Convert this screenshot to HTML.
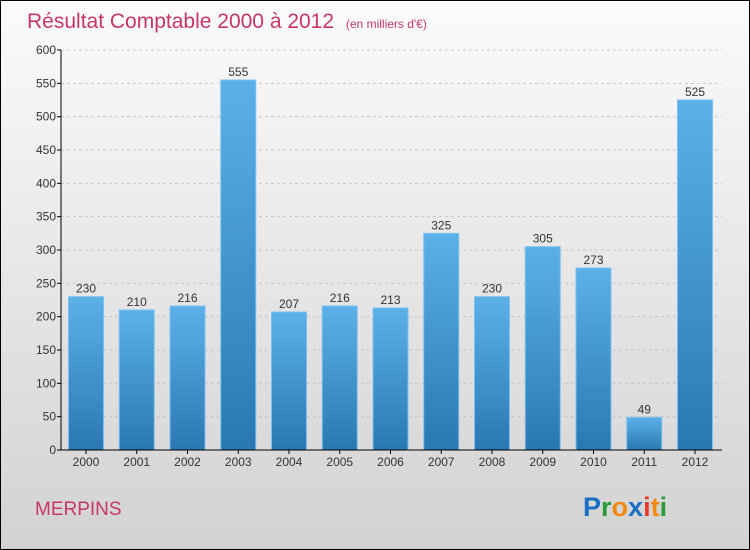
<!DOCTYPE html>
<html><head><meta charset="utf-8"><style>
body{margin:0}
#c{width:748px;height:548px;border:1px solid #000;background:linear-gradient(#fbfbfb,#d2d2d2);position:relative;font-family:"Liberation Sans",sans-serif}
</style></head><body>
<div id="c">
<svg id="s" width="748" height="548" style="position:absolute;left:0;top:0">
<defs><linearGradient id="g" x1="0" y1="0" x2="0" y2="1"><stop offset="0" stop-color="#5cb0e8"/><stop offset="1" stop-color="#2a78b2"/></linearGradient></defs>
<text x="26" y="27" font-size="21" fill="#c8356a">Résultat Comptable 2000 à 2012 <tspan font-size="12" dx="6">(en milliers d'€)</tspan></text>
<text x="34" y="514" font-size="19" fill="#c8356a">MERPINS</text>
<text x="582" y="515" font-size="27" font-weight="bold"><tspan fill="#1a6fc4">P</tspan><tspan fill="#2a9a3a">r</tspan><tspan fill="#f08a10">o</tspan><tspan fill="#1a6fc4">x</tspan><tspan fill="#e03a2a">i</tspan><tspan fill="#f08a10">t</tspan><tspan fill="#2a9a3a">i</tspan></text>
</svg></div>
<script>
const categories=["2000","2001","2002","2003","2004","2005","2006","2007","2008","2009","2010","2011","2012"];
const values=[230,210,216,555,207,216,213,325,230,305,273,49,525];
const yTicks=[0,50,100,150,200,250,300,350,400,450,500,550,600];
const s=document.getElementById('s');const NS="http://www.w3.org/2000/svg";
const y=v=>449-v*(400/600);
const x=i=>85+i*50.75;
function mk(t,a,p){const e=document.createElementNS(NS,t);for(const k in a)e.setAttribute(k,a[k]);(p||s).appendChild(e);return e;}
yTicks.forEach(v=>{
 if(v>0){const l=mk('line',{x1:60,x2:721,y1:y(v),y2:y(v),stroke:'#c8c8c8','stroke-dasharray':'3,3'});
 
 }
 const t=mk('line',{x1:56,x2:60,y1:y(v),y2:y(v),stroke:'#000'});
 
 
 const tx=mk('text',{x:55,y:y(v)+4,'text-anchor':'end','font-size':12,fill:'#333'});tx.textContent=v;
 
 
});
categories.forEach((c,i)=>{
 const v=values[i];
 const r=mk('rect',{x:x(i)-17.5,y:y(v),width:35,height:449-y(v),fill:'url(#g)',stroke:'#7cc0f0','stroke-width':1});
 
 
 const vl=mk('text',{x:x(i),y:y(v)-4,'text-anchor':'middle','font-size':12,fill:'#333'});vl.textContent=v;
 
 
 const tk=mk('line',{x1:x(i),x2:x(i),y1:449,y2:453,stroke:'#000'});
 
 
 const xl=mk('text',{x:x(i),y:465,'text-anchor':'middle','font-size':12,fill:'#333'});xl.textContent=c;
 
 
});
const ya=mk('line',{x1:60,x2:60,y1:49,y2:449,stroke:'#000'});


const xa=mk('line',{x1:60,x2:721,y1:449,y2:449,stroke:'#000'});


</script>
</body></html>
